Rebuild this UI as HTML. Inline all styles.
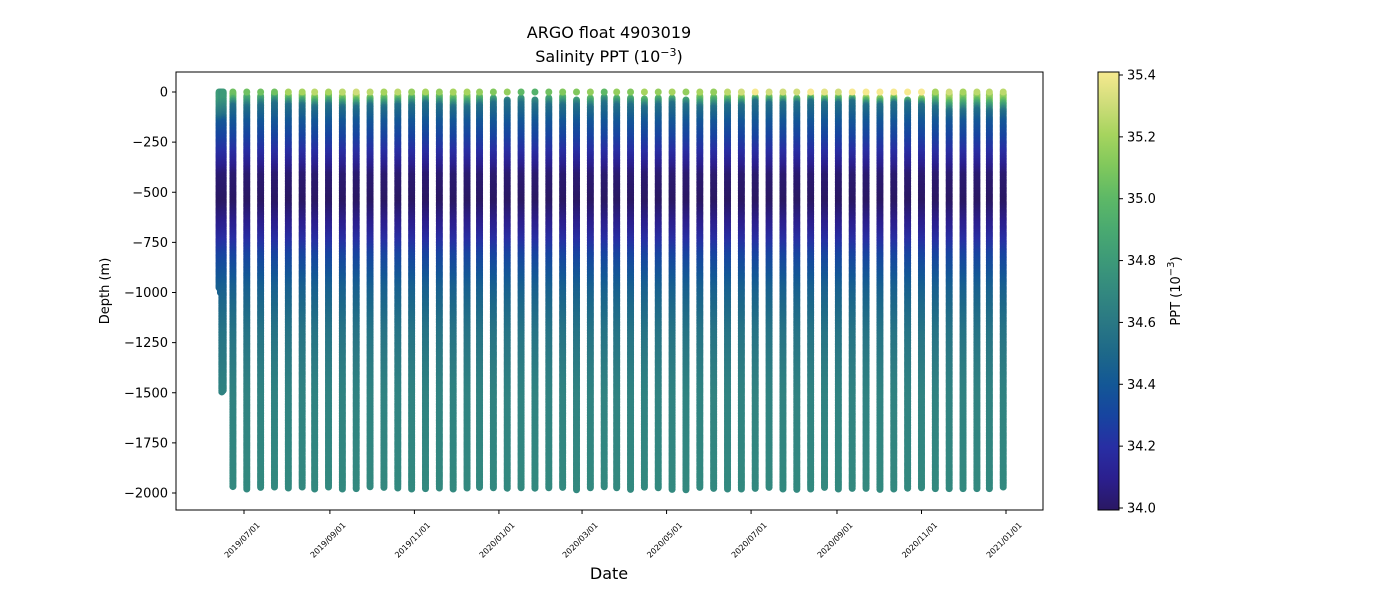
<!DOCTYPE html>
<html><head><meta charset="utf-8"><style>
body{margin:0;background:#fff;font-family:"DejaVu Sans","Liberation Sans",sans-serif}
svg text{font-family:"DejaVu Sans","Liberation Sans",sans-serif;fill:#000}
</style></head><body>
<svg id="chart" width="1400" height="600">
<defs>
<linearGradient id="cbgrad" x1="0" y1="1" x2="0" y2="0"></linearGradient>
</defs>
<text x="609" y="38" text-anchor="middle" font-size="16">ARGO float 4903019</text>
<text x="609" y="62" text-anchor="middle" font-size="16">Salinity PPT (10<tspan dy="-6" font-size="11">−3</tspan><tspan dy="6">)</tspan></text>
<g id="plot"></g>
<rect x="176" y="72" width="867" height="438" fill="none" stroke="#000" stroke-width="1"/>
<g id="yaxis"></g>
<g id="xaxis"></g>
<text transform="translate(109,291) rotate(-90)" text-anchor="middle" font-size="13">Depth (m)</text>
<text x="609" y="579" text-anchor="middle" font-size="16">Date</text>
<rect x="1098" y="72" width="21" height="438" fill="url(#cbgrad)" stroke="#000" stroke-width="1"/>
<g id="cbaxis"></g>
<text transform="translate(1180,291) rotate(-90)" text-anchor="middle" font-size="13">PPT (10<tspan dy="-6" font-size="10">−3</tspan><tspan dy="6">)</tspan></text>
</svg>
<script>
const yTicks=[0,-250,-500,-750,-1000,-1250,-1500,-1750,-2000];
const xTickLabels=["2019/07/01","2019/09/01","2019/11/01","2020/01/01","2020/03/01","2020/05/01","2020/07/01","2020/09/01","2020/11/01","2021/01/01"];
const cbTicks=[34.0,34.2,34.4,34.6,34.8,35.0,35.2,35.4];
const profileDates=["2019-06-13","2019-06-14","2019-06-15","2019-06-16","2019-06-23","2019-07-03","2019-07-13","2019-07-23","2019-08-02","2019-08-12","2019-08-21","2019-08-31","2019-09-10","2019-09-20","2019-09-30","2019-10-10","2019-10-20","2019-10-30","2019-11-09","2019-11-19","2019-11-29","2019-12-09","2019-12-18","2019-12-28","2020-01-07","2020-01-17","2020-01-27","2020-02-06","2020-02-16","2020-02-26","2020-03-07","2020-03-17","2020-03-26","2020-04-05","2020-04-15","2020-04-25","2020-05-05","2020-05-15","2020-05-25","2020-06-04","2020-06-14","2020-06-24","2020-07-04","2020-07-14","2020-07-24","2020-08-03","2020-08-13","2020-08-23","2020-09-02","2020-09-12","2020-09-22","2020-10-02","2020-10-12","2020-10-22","2020-11-01","2020-11-11","2020-11-21","2020-12-01","2020-12-11","2020-12-20","2020-12-30"];
const surfaceSal=[34.8,34.8,34.75,34.8,35.05,34.95,34.95,34.95,35.1,35.1,35.15,35.1,35.15,35.2,35.15,35.1,35.15,35.05,35.1,35.05,35.1,35.1,35.05,35.0,35.05,34.9,34.85,34.95,35.0,35.0,35.05,34.9,35.05,35.0,35.1,35.05,35.1,35.05,35.1,35.05,35.15,35.2,35.3,35.2,35.2,35.2,35.3,35.25,35.2,35.3,35.3,35.3,35.3,35.35,35.3,35.1,35.2,35.1,35.15,35.15,35.15];
const topDepth=[0,0,0,0,0,-20,-20,-10,-15,-10,-20,-10,-20,-10,-25,-20,-15,-20,-10,-15,-20,-15,-20,-30,-40,-30,-40,-30,-20,-40,-30,-25,-30,-30,-35,-30,-30,-40,-20,-25,-20,-20,-25,-20,-20,-30,-20,-20,-20,-25,-25,-30,-20,-40,-30,-10,-10,-10,-10,-10,-10];
const bottomDepth=[-980,-1000,-1500,-1490,-1975,-1980,-1978,-1976,-1978,-1977,-1980,-1976,-1980,-1979,-1976,-1978,-1976,-1980,-1978,-1976,-1980,-1978,-1976,-1980,-1978,-1976,-1978,-1980,-1976,-1984,-1978,-1976,-1980,-1982,-1978,-1980,-1982,-1984,-1978,-1980,-1982,-1984,-1980,-1978,-1980,-1982,-1980,-1978,-1980,-1978,-1980,-1982,-1980,-1978,-1976,-1982,-1980,-1984,-1978,-1980,-1976];
const mixedDepth=[120,120,120,120,70,80,70,60,70,70,80,70,80,80,70,80,70,70,60,70,80,80,70,60,50,60,70,70,70,70,80,60,70,70,80,70,60,70,80,80,70,70,50,60,60,60,50,60,60,50,70,70,60,60,70,80,100,100,90,100,100];
const cmapStops=[[34.0,"#2a1863"],[34.1,"#2b1f8e"],[34.2,"#282ea3"],[34.3,"#1744a0"],[34.4,"#135796"],[34.5,"#1d6889"],[34.6,"#2a7884"],[34.7,"#33897f"],[34.8,"#3d9a78"],[34.9,"#4aaa70"],[35.0,"#5eb966"],[35.1,"#80c85c"],[35.2,"#a6d45e"],[35.3,"#cfdd7a"],[35.4,"#f6e98f"]];
const NS="http://www.w3.org/2000/svg";
function y(d){return 92+(-d)*401/2000;}
const t0=Date.parse("2019-07-01"),t1=Date.parse("2021-01-01");
function x(s){return 244+(Date.parse(s)-t0)/(t1-t0)*762;}
function cbY(v){return 508-(v-34)/1.4*433;}
function hex(h){return [1,3,5].map(i=>parseInt(h.substr(i,2),16));}
function color(v){v=Math.max(34,Math.min(35.4,v));for(let i=1;i<cmapStops.length;i++){if(v<=cmapStops[i][0]){const a=cmapStops[i-1],b=cmapStops[i];const f=(v-a[0])/(b[0]-a[0]);const ca=hex(a[1]),cb=hex(b[1]);return "rgb("+ca.map((c,k)=>Math.round(c+(cb[k]-c)*f)).join(",")+")";}}return cmapStops[cmapStops.length-1][1];}
function sal(d,s0,m){d=-d;
 if(d<=m*0.3)return s0;
 const deep=[[m,34.55],[150,34.4],[300,34.2],[420,34.03],[550,34.0],[680,34.12],[820,34.3],[980,34.45],[1200,34.57],[1500,34.66],[2000,34.7]];
 if(d<m){return s0+(34.55-s0)*(d-m*0.3)/(m*0.7);}
 for(let i=1;i<deep.length;i++){if(d<=deep[i][0]){const a=deep[i-1],b=deep[i];const f=(d-a[0])/Math.max(1,b[0]-a[0]);return a[1]+(b[1]-a[1])*f;}}
 return 34.7;}
function el(tag,attrs,parent){const e=document.createElementNS(NS,tag);for(const k in attrs)e.setAttribute(k,attrs[k]);parent.appendChild(e);return e;}
const plot=document.getElementById("plot");
profileDates.forEach((ds,i)=>{
 const g=el("g",{},plot);
 
 
 const px=x(ds);
 for(let d=topDepth[i];d>=bottomDepth[i];d-=8){
  el("circle",{cx:px,cy:y(d),r:3.5,fill:color(sal(d,surfaceSal[i],mixedDepth[i]))},g);
 }
 if(topDepth[i]<0) el("circle",{cx:px,cy:y(0),r:3.5,fill:color(surfaceSal[i]+0.1)},g);
});
const ya=document.getElementById("yaxis");
yTicks.forEach(v=>{const yy=y(v);
 el("line",{x1:172,x2:176,y1:yy,y2:yy,stroke:"#000"},ya);
 const t=el("text",{x:168,y:yy+4.5,"text-anchor":"end","font-size":"13"},ya);t.textContent=v===0?"0":"−"+(-v);
 
 
});
const xa=document.getElementById("xaxis");
xTickLabels.forEach(s=>{const xx=x(s.replace(/\//g,"-"));
 el("line",{x1:xx,x2:xx,y1:510,y2:514,stroke:"#000"},xa);
 const t=el("text",{transform:"translate("+(xx)+",542) rotate(-45)","text-anchor":"middle","font-size":"8"},xa);t.textContent=s;
 
 
});
const grad=document.getElementById("cbgrad");
cmapStops.forEach(s=>{el("stop",{offset:((s[0]-34)/1.4*100)+"%","stop-color":s[1]},grad);});
const cba=document.getElementById("cbaxis");
cbTicks.forEach(v=>{const yy=cbY(v);
 el("line",{x1:1119,x2:1123,y1:yy,y2:yy,stroke:"#000"},cba);
 const t=el("text",{x:1127,y:yy+4.5,"font-size":"13"},cba);t.textContent=v.toFixed(1);
 
 
});
</script>
</body></html>
